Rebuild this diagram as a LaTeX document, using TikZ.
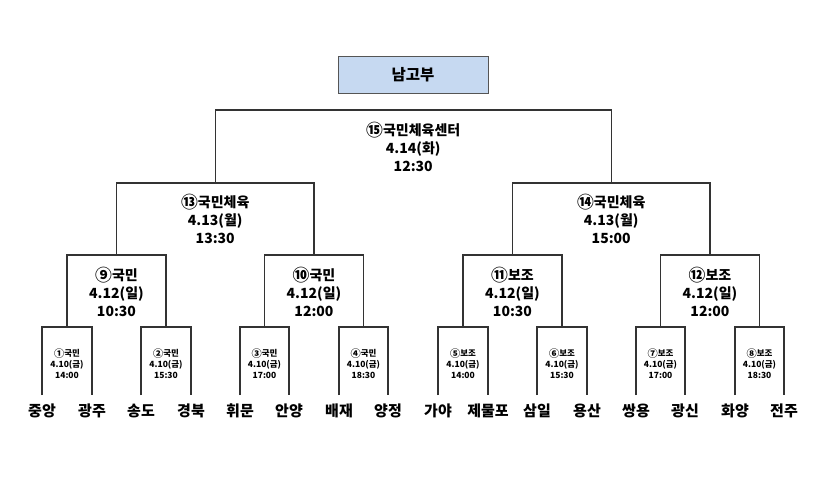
\documentclass[tikz,border=0pt]{standalone}
\usepackage{fontspec}
\setmainfont{Noto Sans CJK KR}
\definecolor{linegray}{HTML}{333333}
\definecolor{titlefill}{HTML}{C6D9F1}
\definecolor{titleborder}{HTML}{555555}
\newcommand\cnum[1]{\raisebox{-0.08em}{\scalebox{1.2}{#1}}}
\begin{document}
\begin{tikzpicture}[x=1pt,y=-1pt,
  bracket/.style={draw=linegray,line width=1.3pt},
  lbl/.style={align=center,font=\bfseries\fontsize{14}{18}\selectfont,inner sep=0pt},
  smalllbl/.style={align=center,font=\bfseries\fontsize{8.5}{11}\selectfont,inner sep=0pt},
  team/.style={font=\bfseries\fontsize{15}{18}\selectfont,inner sep=0pt},
  titlebox/.style={draw=titleborder,fill=titlefill,line width=1pt,minimum width=150pt,minimum height=37pt,inner sep=0pt,font=\bfseries\fontsize{15.5}{18}\selectfont}]
\useasboundingbox[fill=white] (0,0) rectangle (819,491);

% title
\node[titlebox] (title) at (413,74.5) {남고부};

% leaves and team names
\foreach \i/\x/\t in {1/42/중앙,2/92/광주,3/141/송도,4/191/경북,5/240/휘문,6/289/안양,7/339/배재,8/388/양정,9/438/가야,10/488/제물포,11/537/삼일,12/587/용산,13/636/쌍용,14/685/광신,15/735/화양,16/784/전주}{
  \coordinate (L\i) at (\x,395);
  \node[team] (T\i) at (\x,411) {\t};
}

% match junctions
\coordinate (M1) at (67,327);
\coordinate (M2) at (166,327);
\coordinate (M3) at (264.5,327);
\coordinate (M4) at (363.5,327);
\coordinate (M5) at (463,327);
\coordinate (M6) at (562,327);
\coordinate (M7) at (660.5,327);
\coordinate (M8) at (759.5,327);
\coordinate (M9) at (116.5,255);
\coordinate (M10) at (314,255);
\coordinate (M11) at (512.5,255);
\coordinate (M12) at (710,255);
\coordinate (M13) at (215.25,183);
\coordinate (M14) at (611.25,183);
\coordinate (M15) at (413.25,110);

% round 1
\draw[bracket] (L1) |- (M1) -| (L2);
\draw[bracket] (L3) |- (M2) -| (L4);
\draw[bracket] (L5) |- (M3) -| (L6);
\draw[bracket] (L7) |- (M4) -| (L8);
\draw[bracket] (L9) |- (M5) -| (L10);
\draw[bracket] (L11) |- (M6) -| (L12);
\draw[bracket] (L13) |- (M7) -| (L14);
\draw[bracket] (L15) |- (M8) -| (L16);
% round 2
\draw[bracket] (M1) |- (M9) -| (M2);
\draw[bracket] (M3) |- (M10) -| (M4);
\draw[bracket] (M5) |- (M11) -| (M6);
\draw[bracket] (M7) |- (M12) -| (M8);
% round 3
\draw[bracket] (M9) |- (M13) -| (M10);
\draw[bracket] (M11) |- (M14) -| (M12);
% final
\draw[bracket] (M13) |- (M15) -| (M14);

% labels round 1
\node[smalllbl] (G1) at (67,364) {\cnum{①}국민\\4.10(금)\\14:00};
\node[smalllbl] (G2) at (166,364) {\cnum{②}국민\\4.10(금)\\15:30};
\node[smalllbl] (G3) at (264.5,364) {\cnum{③}국민\\4.10(금)\\17:00};
\node[smalllbl] (G4) at (363.5,364) {\cnum{④}국민\\4.10(금)\\18:30};
\node[smalllbl] (G5) at (463,364) {\cnum{⑤}보조\\4.10(금)\\14:00};
\node[smalllbl] (G6) at (562,364) {\cnum{⑥}보조\\4.10(금)\\15:30};
\node[smalllbl] (G7) at (660.5,364) {\cnum{⑦}보조\\4.10(금)\\17:00};
\node[smalllbl] (G8) at (759.5,364) {\cnum{⑧}보조\\4.10(금)\\18:30};
% labels round 2
\node[lbl] (G9) at (116.5,292) {\cnum{⑨}국민\\4.12(일)\\10:30};
\node[lbl] (G10) at (314,292) {\cnum{⑩}국민\\4.12(일)\\12:00};
\node[lbl] (G11) at (512.5,292) {\cnum{⑪}보조\\4.12(일)\\10:30};
\node[lbl] (G12) at (710,292) {\cnum{⑫}보조\\4.12(일)\\12:00};
% labels round 3
\node[lbl] (G13) at (215.25,219) {\cnum{⑬}국민체육\\4.13(월)\\13:30};
\node[lbl] (G14) at (611.25,219) {\cnum{⑭}국민체육\\4.13(월)\\15:00};
% final
\node[lbl] (G15) at (413.25,147) {\cnum{⑮}국민체육센터\\4.14(화)\\12:30};
\end{tikzpicture}
\end{document}
